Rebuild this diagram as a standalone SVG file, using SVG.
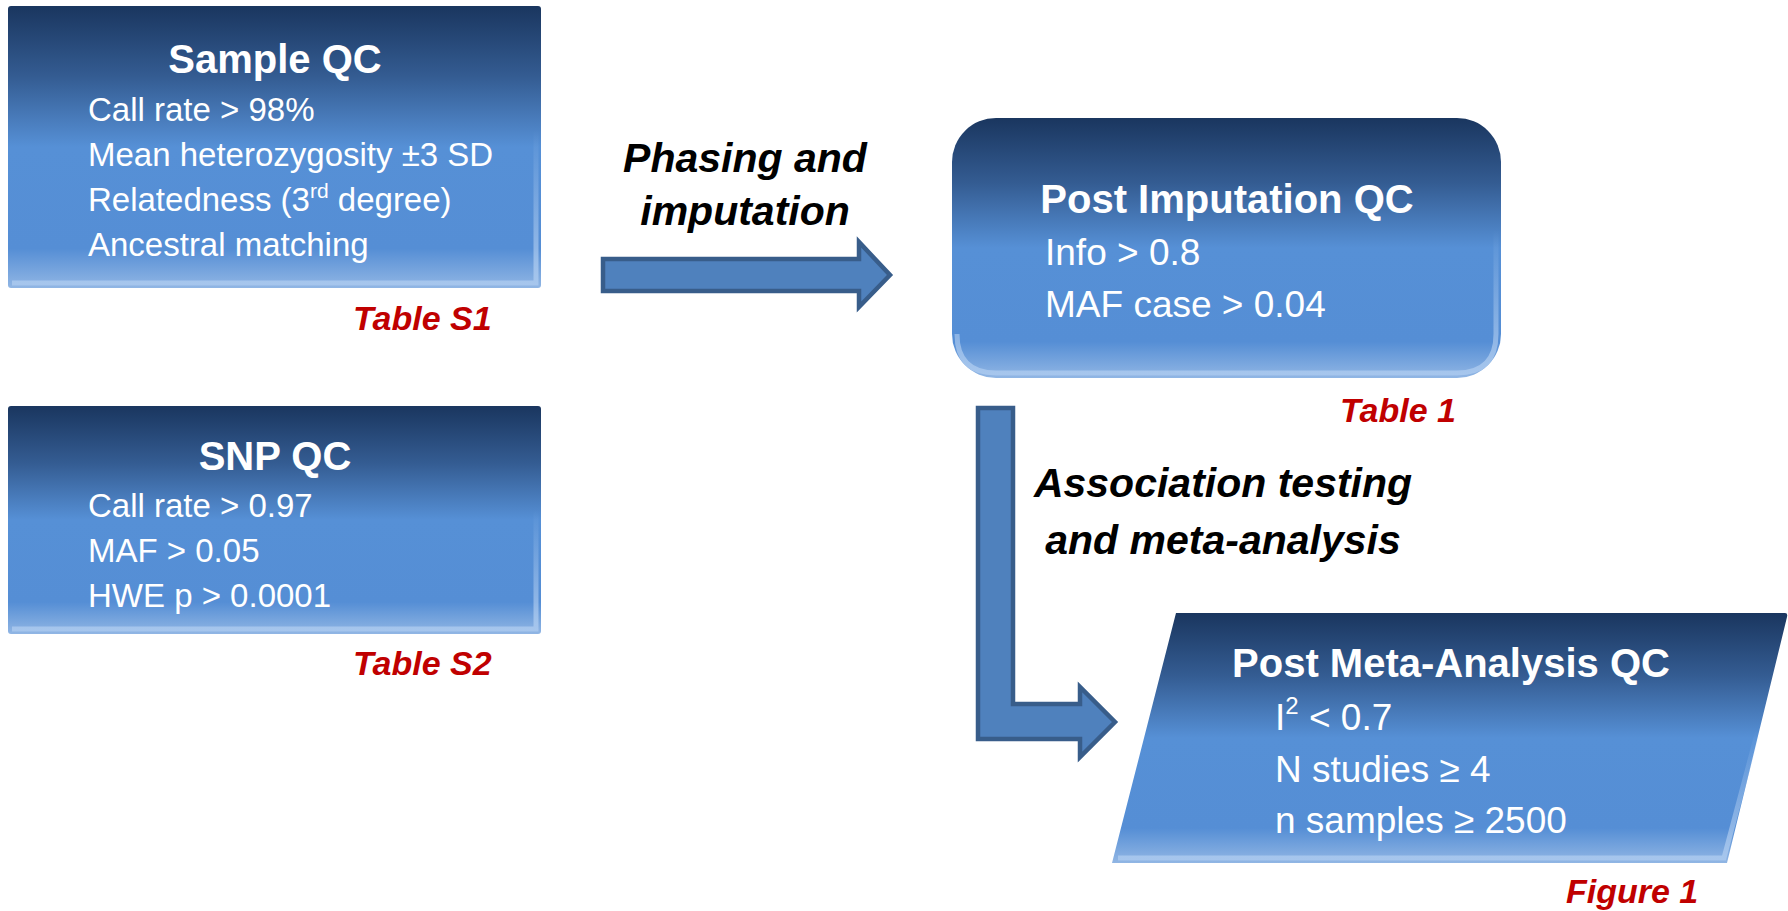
<svg xmlns="http://www.w3.org/2000/svg" width="1788" height="911" viewBox="0 0 1788 911">
<defs>
<linearGradient id="boxg" x1="0" y1="0" x2="0" y2="1">
<stop offset="0" stop-color="#1A365F"/>
<stop offset="0.25" stop-color="#345C92"/>
<stop offset="0.5" stop-color="#5690D6"/>
<stop offset="0.86" stop-color="#558ED5"/>
<stop offset="1" stop-color="#91B6E4"/>
</linearGradient>
<linearGradient id="hl" x1="0" y1="0" x2="0" y2="1">
<stop offset="0" stop-color="#A9C8EE" stop-opacity="0"/>
<stop offset="1" stop-color="#A9C8EE" stop-opacity="0.9"/>
</linearGradient>
<style>
.box{fill:url(#boxg);}
.hl{fill:none;stroke:url(#hl);stroke-width:5;}
.title{font-family:"Liberation Sans",Arial,sans-serif;font-weight:bold;font-size:40px;fill:#FFFFFF;text-anchor:middle;}
.body{font-family:"Liberation Sans",Arial,sans-serif;font-size:33px;fill:#FFFFFF;}
.bodyR{font-family:"Liberation Sans",Arial,sans-serif;font-size:37px;fill:#FFFFFF;}
.ref{font-family:"Liberation Sans",Arial,sans-serif;font-weight:bold;font-style:italic;font-size:34px;fill:#C00000;}
.lbl{font-family:"Liberation Sans",Arial,sans-serif;font-weight:bold;font-style:italic;font-size:41px;fill:#000000;text-anchor:middle;}
.arrow{fill:#4F81BD;stroke:#385D8A;stroke-width:4.5;stroke-linejoin:miter;}
</style>
</defs>
<rect width="1788" height="911" fill="#FFFFFF"/>

<g id="sample-qc">
<rect class="box" x="8" y="6" width="533" height="282" rx="3"/>
<path class="hl" d="M536,130 L536,283 L12,283"/>
<text class="title" x="275" y="73">Sample QC</text>
<text class="body" x="88" y="121">Call rate &gt; 98%</text>
<text class="body" x="88" y="166">Mean heterozygosity ±3 SD</text>
<text class="body" x="88" y="211">Relatedness (3<tspan font-size="21" dy="-13">rd</tspan><tspan dy="13"> degree)</tspan></text>
<text class="body" x="88" y="256">Ancestral matching</text>
<text class="ref" x="353" y="330">Table S1</text>
</g>

<g id="snp-qc">
<rect class="box" x="8" y="406" width="533" height="228" rx="3"/>
<path class="hl" d="M536,510 L536,629 L12,629"/>
<text class="title" x="275" y="470">SNP QC</text>
<text class="body" x="88" y="517">Call rate &gt; 0.97</text>
<text class="body" x="88" y="562">MAF &gt; 0.05</text>
<text class="body" x="88" y="607">HWE p &gt; 0.0001</text>
<text class="ref" x="353" y="675">Table S2</text>
</g>

<g id="post-imputation-qc">
<rect class="box" x="952" y="118" width="549" height="260" rx="44"/>
<path class="hl" d="M1496,230 L1496,334 Q1496,373 1457,373 L996,373 Q957,373 957,334"/>
<text class="title" x="1227" y="213" font-size="41">Post Imputation QC</text>
<text class="bodyR" x="1045" y="265">Info &gt; 0.8</text>
<text class="bodyR" x="1045" y="317">MAF case &gt; 0.04</text>
<text class="ref" x="1340" y="422" font-size="35">Table 1</text>
</g>

<g id="post-meta-analysis-qc">
<path class="box" d="M1176,613 L1785,613 Q1788,613 1787,617 L1727,863 L1112,863 Z"/>
<path class="hl" d="M1758,730 L1724,858 L1118,858"/>
<text class="title" x="1451" y="677" font-size="41">Post Meta-Analysis QC</text>
<text class="bodyR" x="1275" y="730">I<tspan font-size="24" dy="-16">2</tspan><tspan dy="16"> &lt; 0.7</tspan></text>
<text class="bodyR" x="1275" y="782">N studies ≥ 4</text>
<text class="bodyR" x="1275" y="833">n samples ≥ 2500</text>
<text class="ref" x="1566" y="903" font-size="35">Figure 1</text>
</g>

<g id="connectors">
<path class="arrow" d="M603,259 L859,259 L859,242 L890,275 L859,307 L859,291 L603,291 Z"/>
<text class="lbl" x="745" y="172">Phasing and</text>
<text class="lbl" x="745" y="225">imputation</text>
<path class="arrow" d="M978,408 L1013,408 L1013,704 L1080,704 L1080,687 L1115,722 L1080,757 L1080,739 L978,739 Z"/>
<text class="lbl" x="1223" y="497">Association testing</text>
<text class="lbl" x="1223" y="554">and meta-analysis</text>
</g>
</svg>
